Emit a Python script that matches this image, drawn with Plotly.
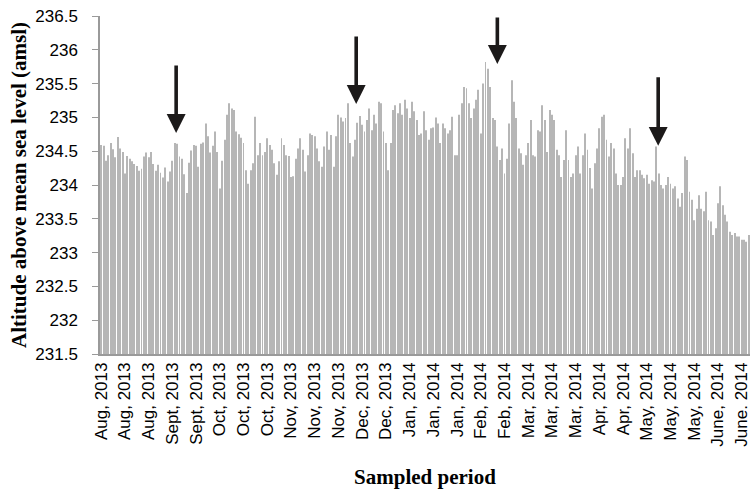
import plotly.graph_objects as go

# Daily altitude readings (amsl), Aug 2013 – June 2014, 274 sampled bars
altitude_aug_oct = [
    234.59, 234.58, 234.36, 234.44, 234.62, 234.53, 234.41, 234.71, 234.54, 234.49,
    234.17, 234.43, 234.39, 234.35, 234.31, 234.28, 234.21, 234.24, 234.42, 234.48,
    234.41, 234.49, 234.31, 234.21, 234.30, 234.18, 234.11, 234.26, 234.05,
    234.20, 234.36, 234.62, 234.61, 234.42, 234.39, 234.16, 233.88, 234.33, 234.51,
    234.59, 234.58, 234.27, 234.61, 234.63, 234.91, 234.72, 234.48, 234.58, 234.79,
    234.49, 233.95, 234.36, 234.67, 235.04, 235.21,
]
altitude_oct_dec = [
    235.13, 235.11, 234.79, 234.75, 234.70, 234.62, 234.22, 234.02, 234.22, 234.32,
    235.01, 234.44, 234.62, 234.44, 234.49, 234.69, 234.59, 234.52, 234.32,
    234.15, 234.35, 234.69, 234.59, 234.44, 234.43, 234.12, 234.13, 234.39, 234.54,
    234.69, 234.52, 234.20, 234.44, 234.76, 234.74, 234.72, 234.54, 234.35, 234.27,
    234.57, 234.79, 234.52, 234.74, 234.27, 234.72, 235.04, 235.00, 234.94, 234.99,
    235.21, 234.62, 234.42, 234.67, 234.92, 235.02,
]
altitude_dec_feb = [
    234.89, 234.79, 234.96, 235.13, 234.81, 235.04, 234.91, 235.23, 235.21,
    234.79, 234.62, 234.22, 234.62, 235.11, 235.18, 235.06, 235.21, 235.04, 235.26,
    235.13, 234.99, 235.23, 235.09, 234.96, 234.74, 234.76, 235.09, 234.81, 234.67,
    234.84, 234.85, 235.00, 234.91, 234.62, 234.91, 234.84, 234.76, 234.81,
    235.01, 234.44, 234.44, 235.04, 235.21, 235.45, 235.43, 235.21, 234.99, 235.13,
    235.26, 235.41, 234.76, 235.50, 235.82, 235.72,
]
altitude_feb_apr = [
    235.45, 234.99, 234.96, 234.57, 234.37, 234.54, 234.17, 234.39, 234.91, 235.55,
    235.23, 234.99, 234.54, 234.47, 234.30, 234.44, 234.62, 234.96, 234.44, 234.42,
    234.81, 234.79, 235.18, 234.96, 234.49, 235.11, 235.04, 234.96, 234.52, 234.44,
    234.12, 234.37, 234.81, 234.37, 234.12, 234.17, 234.44, 234.57, 234.17,
    234.44, 234.76, 234.52, 234.25, 233.95, 234.32, 234.54, 234.84, 235.01, 235.04,
    234.67, 234.42, 234.62, 234.54, 234.17, 234.00,
]
altitude_apr_jun = [
    234.00, 234.12, 234.69, 234.54, 234.84, 234.47, 234.12, 234.22, 234.22, 234.15,
    234.10, 234.15, 234.02, 234.07, 234.05, 234.57, 234.17, 234.00, 233.95, 234.00,
    234.12, 234.02, 233.95, 233.98, 233.80, 233.68, 233.88, 234.42, 234.37,
    233.90, 233.78, 233.48, 233.65, 233.85, 233.65, 233.61, 233.90, 233.48, 233.46,
    233.26, 233.36, 233.73, 233.98, 233.70, 233.56, 233.46, 233.31, 233.26, 233.29,
    233.24, 233.24, 233.19, 233.19, 233.16, 233.26,
]
altitude = altitude_aug_oct + altitude_oct_dec + altitude_dec_feb + altitude_feb_apr + altitude_apr_jun
sample_index = list(range(len(altitude)))

y_floor = 231.5

tick_positions = list(range(0, 274, 10))
tick_labels = [
    "Aug, 2013", "Aug, 2013", "Aug, 2013", "Sept, 2013", "Sept, 2013",
    "Oct, 2013", "Oct, 2013", "Oct, 2013", "Nov, 2013", "Nov, 2013", "Nov, 2013",
    "Dec, 2013", "Dec, 2013", "Jan, 2014", "Jan, 2014", "Jan, 2014",
    "Feb, 2014", "Feb, 2014", "Mar, 2014", "Mar, 2014", "Mar, 2014",
    "Apr, 2014", "Apr, 2014", "May, 2014", "May, 2014", "May, 2014",
    "June, 2014", "June. 2014",
]

# Arrow markers: (bar position, altitude at arrow tip, arrow length in px)
arrow_x = [31.6, 107.5, 167.0, 234.8]
arrow_y = [234.77, 235.20, 235.79, 234.58]
arrow_len = [69, 69, 48, 70]

fig = go.Figure()
fig.add_trace(go.Bar(
    x=sample_index,
    y=[v - y_floor for v in altitude],
    base=y_floor,
    customdata=altitude,
    hovertemplate="%{customdata}<extra></extra>",
    marker=dict(color="#b6b6b6", line=dict(width=0)),
))

for xa, ya, la in zip(arrow_x, arrow_y, arrow_len):
    fig.add_annotation(
        x=xa, y=ya, ax=0, ay=-la, text="",
        showarrow=True, arrowhead=2, arrowwidth=3.6, arrowsize=1.05,
        arrowcolor="#1c1a1a", standoff=0,
    )

serif = "Liberation Serif, Times New Roman, serif"
sans = "Liberation Sans, Arial, sans-serif"

fig.update_layout(
    width=750, height=494,
    margin=dict(l=100, r=0, t=16, b=140),
    plot_bgcolor="white", paper_bgcolor="white",
    bargap=0.6,
    showlegend=False,
    xaxis=dict(
        range=[-0.5, len(altitude) - 0.5], automargin=False,
        tickmode="array", tickvals=tick_positions, ticktext=tick_labels,
        tickangle=-90, tickfont=dict(family=sans, size=17, color="black"),
        ticklabeloverflow="allow",
        showline=True, linecolor="#9a9a9a", linewidth=1.5,
        ticks="", showgrid=False, zeroline=False,
        title=dict(text="Sampled period", font=dict(family=serif, size=21, color="black", weight="bold"), standoff=24),
    ),
    yaxis=dict(
        range=[231.5, 236.5], dtick=0.5, tick0=231.5, automargin=False,
        tickfont=dict(family=sans, size=17, color="black"),
        showline=True, linecolor="#9a9a9a", linewidth=1.5,
        ticks="outside", ticklen=6, tickcolor="#9a9a9a", tickwidth=1,
        ticklabelstandoff=11,
        showgrid=False, zeroline=False,
        title=dict(text="Altitude above mean sea level (amsl)", font=dict(family=serif, size=21, color="black", weight="bold"), standoff=3),
    ),
)

fig.write_html(
    "out.html",
    config={"displayModeBar": False},
    post_script="document.body.style.margin='0';",
)
